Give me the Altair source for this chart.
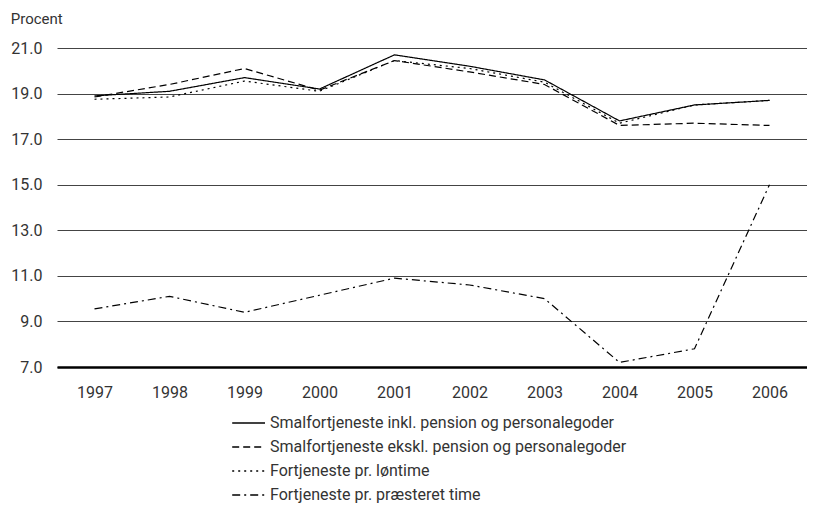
import altair as alt
import pandas as pd

years = ["1997", "1998", "1999", "2000", "2001", "2002", "2003", "2004", "2005", "2006"]
series = [
    "Smalfortjeneste inkl. pension og personalegoder",
    "Smalfortjeneste ekskl. pension og personalegoder",
    "Fortjeneste pr. løntime",
    "Fortjeneste pr. præsteret time",
]
inkl = [18.9, 19.1, 19.7, 19.2, 20.7, 20.2, 19.6, 17.8, 18.5, 18.7]
ekskl = [18.85, 19.4, 20.1, 19.15, 20.45, 19.95, 19.4, 17.6, 17.7, 17.6]
loentime = [18.75, 18.85, 19.55, 19.1, 20.45, 20.1, 19.5, 17.7, 18.5, 18.7]
praesteret = [9.55, 10.1, 9.4, 10.15, 10.9, 10.6, 10.0, 7.2, 7.8, 15.0]
y_ticks = [7, 9, 11, 13, 15, 17, 19, 21]

rows = []
for name, vals in zip(series, [inkl, ekskl, loentime, praesteret]):
    for yr, v in zip(years, vals):
        rows.append({"year": yr, "value": v, "serie": name})
df = pd.DataFrame(rows)

FONT = "Roboto"
TXT = "#333333"

chart = alt.Chart(df).mark_line(color="black", strokeWidth=1.2).encode(
    x=alt.X("year:O", sort=years, title=None,
            scale=alt.Scale(paddingOuter=0.5),
            axis=alt.Axis(labelAngle=0, ticks=False, tickSize=0, labelPadding=17,
                          domain=True, domainColor="black", domainWidth=2.5,
                          labelFontSize=16, labelFont=FONT, labelColor=TXT, grid=False)),
    y=alt.Y("value:Q", title=None,
            scale=alt.Scale(domain=[7, 21], nice=False, zero=False),
            axis=alt.Axis(values=y_ticks, format=".1f", ticks=False, domain=False,
                          labelPadding=15, labelFontSize=16, labelFont=FONT, labelColor=TXT,
                          grid=True, gridColor="#444444", gridWidth=1)),
    strokeDash=alt.StrokeDash("serie:N", sort=series,
        scale=alt.Scale(domain=series, range=[[1, 0], [7, 4], [2, 4], [8, 4, 2, 4]]),
        legend=alt.Legend(title=None, orient="none", legendX=191, legendY=366,
                          direction="vertical", symbolType="M-3.1,0H1",
                          symbolStrokeColor="black", symbolStrokeWidth=1.5,
                          symbolSize=256, labelFontSize=16, labelFont=FONT,
                          labelColor=TXT, rowPadding=7, labelOffset=4, labelLimit=0)),
    order=alt.value(0),
).properties(
    width=750,
    height=319,
    padding={"left": 2, "top": 4, "right": 0, "bottom": 0},
    title=alt.TitleParams("Procent", anchor="start", fontSize=15, font=FONT,
                          fontWeight="normal", color=TXT, offset=13),
).configure_view(stroke=None)

chart.save("out.html", embed_options={"renderer": "svg", "actions": False})
